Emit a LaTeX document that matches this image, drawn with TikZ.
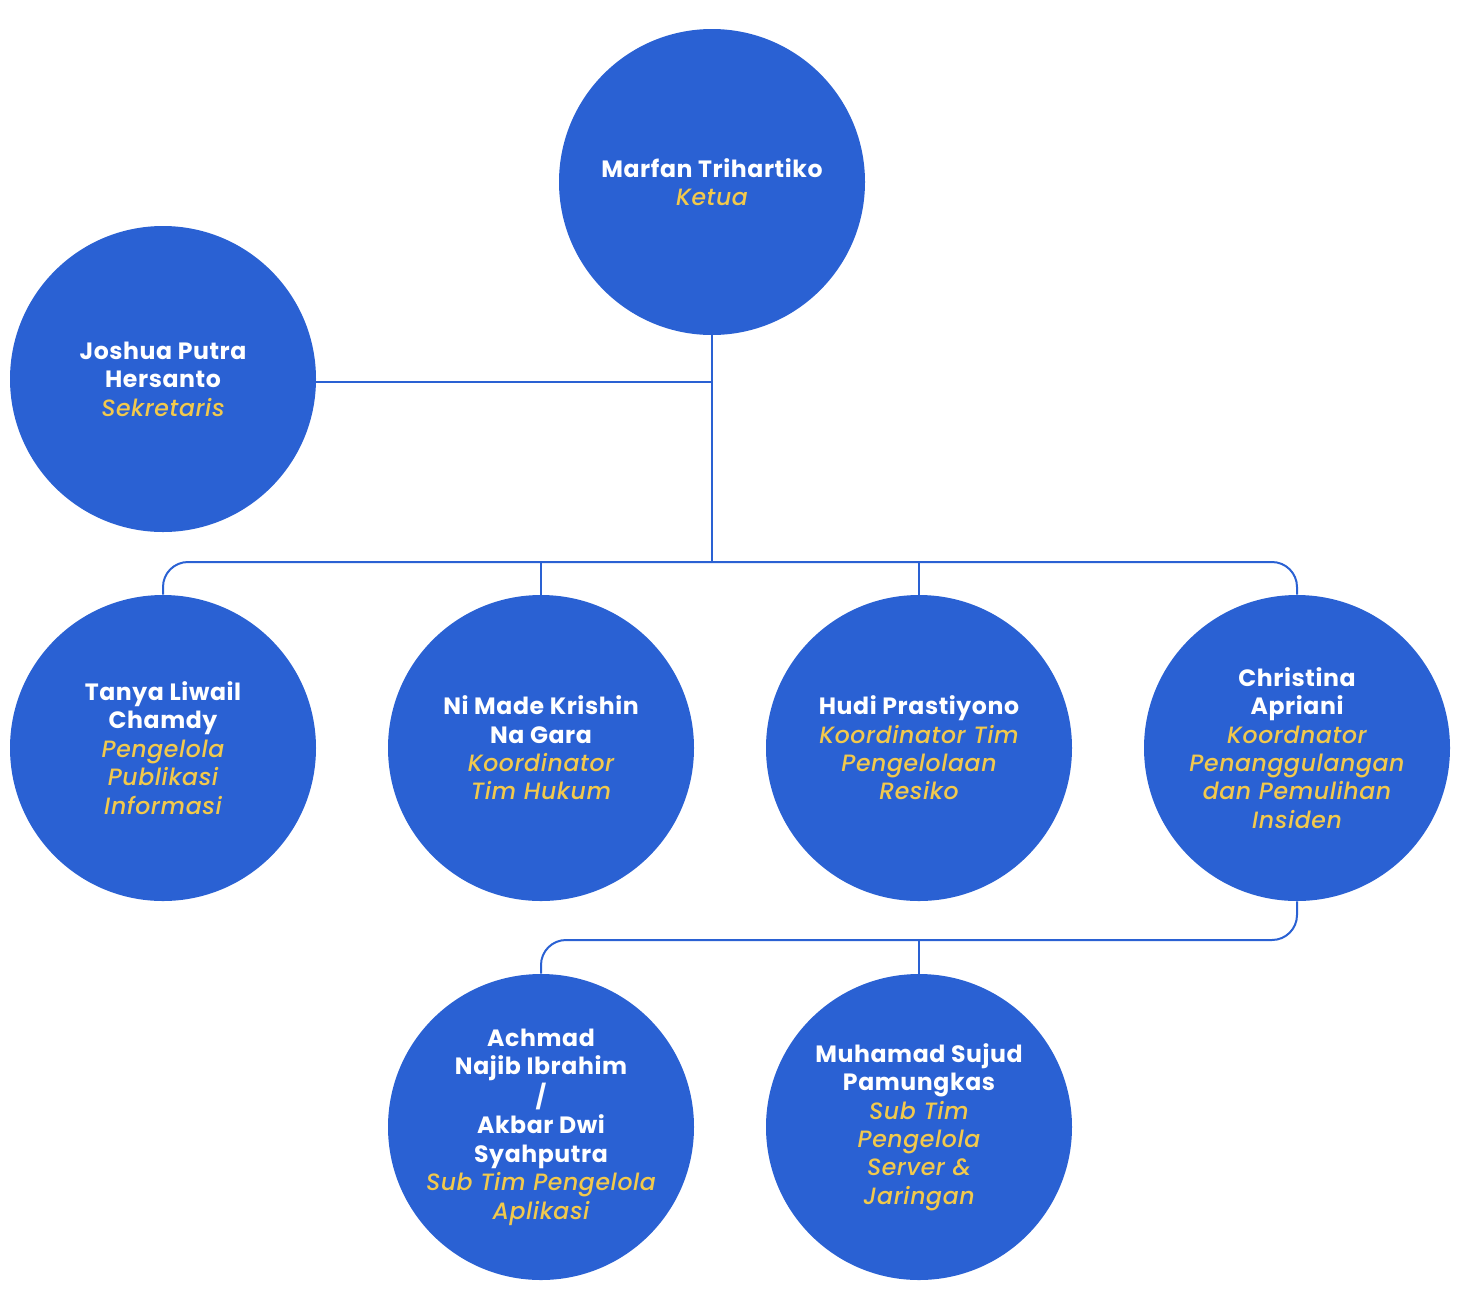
\documentclass[tikz,border=0pt]{standalone}
\usepackage{fontspec}
\setmainfont{Poppins}[ItalicFont={Poppins Medium Italic}, LetterSpace=2.5]
\usepackage{tikz}
\definecolor{orgblue}{HTML}{2A61D3}
\definecolor{orgyellow}{HTML}{F2C94C}
\newcommand{\who}[1]{\textbf{\color{white}#1}}
\newcommand{\role}[1]{\textit{\color{orgyellow}#1}}
\begin{document}
\begin{tikzpicture}[x=0.5pt, y=-0.5pt,
    person/.style={circle, fill=orgblue, minimum size=153pt, inner sep=0pt,
      align=center, font=\fontsize{11.8}{14.2}\selectfont},
    link/.style={draw=orgblue, line width=1pt, rounded corners=12.5pt}]
  \useasboundingbox (0,0) rectangle (1462,1292);

  \node[person](ketua)      at ( 712,  182) {\who{Marfan Trihartiko}\\\role{Ketua}};
  \node[person](sekretaris) at ( 163,  379) {\who{Joshua Putra}\\\who{Hersanto}\\\role{Sekretaris}};
  \node[person](publikasi)  at ( 163,  748) {\who{Tanya Liwail}\\\who{Chamdy}\\\role{Pengelola}\\\role{Publikasi}\\\role{Informasi}};
  \node[person](hukum)      at ( 541,  748) {\who{Ni Made Krishin}\\\who{Na Gara}\\\role{Koordinator}\\\role{Tim Hukum}};
  \node[person](resiko)     at ( 919,  748) {\who{Hudi Prastiyono}\\\role{Koordinator Tim}\\\role{Pengelolaan}\\\role{Resiko}};
  \node[person](insiden)    at (1297,  748) {\who{Christina}\\\who{Apriani}\\\role{Koordnator}\\\role{Penanggulangan}\\\role{dan Pemulihan}\\\role{Insiden}};
  \node[person](aplikasi)   at ( 541, 1127) {\who{Achmad}\\\who{Najib Ibrahim}\\\who{/}\\\who{Akbar Dwi}\\\who{Syahputra}\\\role{Sub Tim Pengelola}\\\role{Aplikasi}};
  \node[person](server)     at ( 919, 1127) {\who{Muhamad Sujud}\\\who{Pamungkas}\\\role{Sub Tim}\\\role{Pengelola}\\\role{Server \&}\\\role{Jaringan}};

  \coordinate(sek)  at (712, 382);
  \coordinate(bus)  at (712, 562);
  \coordinate(bus2) at (919, 940);

  \draw[link] (ketua.south) -- (bus);
  \draw[link] (sekretaris.east |- sek) -- (sek);
  \draw[link] (publikasi.north) |- (bus) -| (insiden.north);
  \draw[link] (hukum.north) -- (hukum.north |- bus);
  \draw[link] (resiko.north) -- (resiko.north |- bus);
  \draw[link] (insiden.south) |- (bus2) -| (aplikasi.north);
  \draw[link] (server.north) -- (bus2);
\end{tikzpicture}
\end{document}
